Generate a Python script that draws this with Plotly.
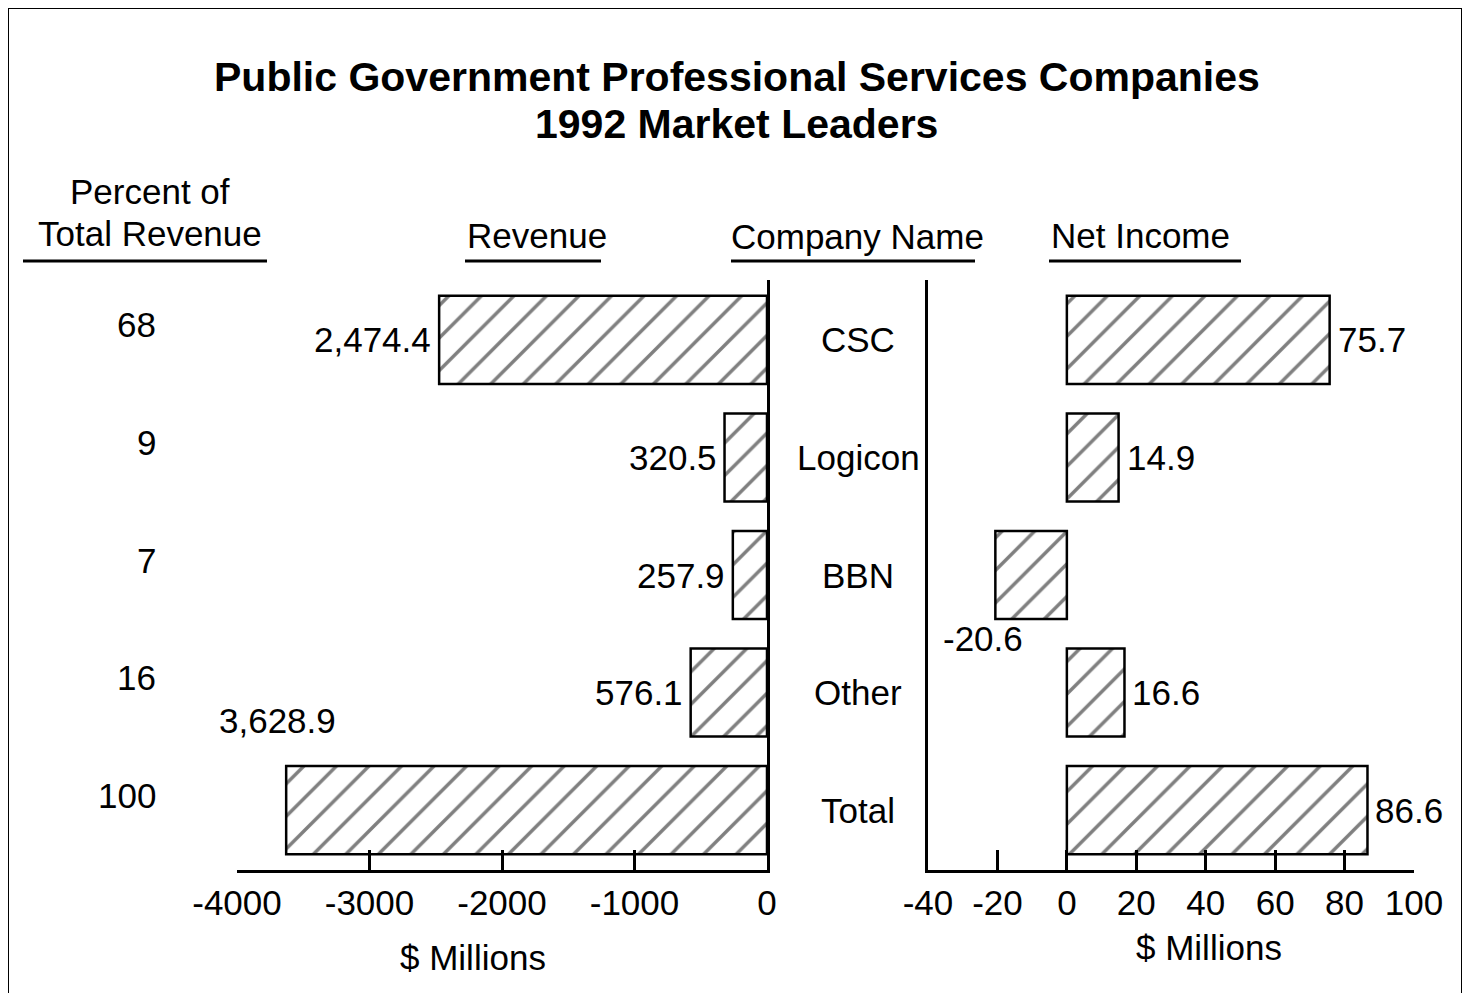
import plotly.graph_objects as go

companies = ["CSC", "Logicon", "BBN", "Other", "Total"]
percent_of_total = ["68", "9", "7", "16", "100"]
revenue = [2474.4, 320.5, 257.9, 576.1, 3628.9]
revenue_labels = ["2,474.4", "320.5", "257.9", "576.1", "3,628.9"]
net_income = [75.7, 14.9, -20.6, 16.6, 86.6]
net_income_labels = ["75.7", "14.9", "-20.6", "16.6", "86.6"]
rev_ticks = [-4000, -3000, -2000, -1000, 0]
rev_tick_text = ["-4000", "-3000", "-2000", "-1000", "0"]
ni_ticks = [-40, -20, 0, 20, 40, 60, 80, 100]
ni_tick_text = ["-40", "-20", "0", "20", "40", "60", "80", "100"]

OFF = 8  # page body margin
W, H = 1470 - 2 * OFF, 1001 - 2 * OFF
FONT = "Liberation Sans"
FS = 35

def px(x):
    return (x - OFF) / W

def py(y):
    return 1 - (y - OFF) / H

pattern = dict(shape="/", fgcolor="black", bgcolor="white", size=23, solidity=0.15)

fig = go.Figure()
fig.add_trace(go.Bar(
    x=[-v for v in revenue], y=companies, orientation="h", width=0.75,
    marker=dict(color="white", pattern=pattern, line=dict(color="black", width=2.5)),
    xaxis="x", yaxis="y", showlegend=False, hoverinfo="skip"))
fig.add_trace(go.Bar(
    x=net_income, y=companies, orientation="h", width=0.75,
    marker=dict(color="white", pattern=pattern, line=dict(color="black", width=2.5)),
    xaxis="x2", yaxis="y2", showlegend=False, hoverinfo="skip"))

ydom = [py(870), py(280)]
axis_common = dict(showgrid=False, zeroline=False, showline=True, linecolor="black",
                   linewidth=2.5, ticks="inside", ticklen=20, tickwidth=2.5,
                   tickcolor="black", automargin=False,
                   tickfont=dict(family=FONT, size=FS, color="black"))
fig.update_layout(
    width=W, height=H, autosize=False,
    margin=dict(l=0, r=0, t=0, b=0, pad=0, autoexpand=False),
    paper_bgcolor="white", plot_bgcolor="white",
    font=dict(family=FONT, size=FS, color="black"),
    bargap=0.25,
    xaxis=dict(domain=[px(237), px(767)], range=[-4000, 0], tickvals=rev_ticks,
               ticktext=rev_tick_text, anchor="y", **axis_common),
    yaxis=dict(domain=ydom, type="category", categoryarray=companies, range=[4.51, -0.51],
               side="right", showline=True, linecolor="black", linewidth=2.5,
               showticklabels=False, ticks="", showgrid=False, zeroline=False, anchor="x"),
    xaxis2=dict(domain=[px(928), px(1414)], range=[-40, 100], tickvals=ni_ticks,
                ticktext=ni_tick_text, anchor="y2", **axis_common),
    yaxis2=dict(domain=ydom, type="category", categoryarray=companies, range=[4.51, -0.51],
                side="left", showline=True, linecolor="black", linewidth=2.5,
                showticklabels=False, ticks="", showgrid=False, zeroline=False, anchor="x2"),
)

ann = []
def add_text(text, x, y, size=FS, xanchor="center", bold=False, **kw):
    d = dict(text=text, x=x, y=y, xref="paper", yref="paper", showarrow=False,
             xanchor=xanchor, yanchor="middle",
             font=dict(family=FONT, size=size, color="black", weight=700 if bold else 400))
    d.update(kw)
    ann.append(d)

add_text("Public Government Professional Services Companies", px(737), py(77), size=41, bold=True)
add_text("1992 Market Leaders", px(737), py(124), size=41, bold=True)
add_text("Percent of", px(150), py(192))
add_text("Total Revenue", px(150), py(233))
add_text("Revenue", px(537), py(235))
add_text("Company Name", px(857), py(236))
add_text("Net Income", px(1140), py(235))
add_text("$ Millions", px(473), py(957))
add_text("$ Millions", px(1209), py(947))

for i, c in enumerate(companies):
    ann.append(dict(text=c, x=px(858), xref="paper", y=c, yref="y", showarrow=False,
                    xanchor="center", yanchor="middle",
                    font=dict(family=FONT, size=FS, color="black")))
    ann.append(dict(text=percent_of_total[i], x=px(158), xref="paper", y=c, yref="y",
                    yshift=15, showarrow=False, xanchor="right", yanchor="middle",
                    font=dict(family=FONT, size=FS, color="black")))
    if c == "Total":
        ann.append(dict(text=revenue_labels[i], x=-revenue[i], xref="x", y=c, yref="y",
                        xshift=-9, yshift=90, showarrow=False, xanchor="center", yanchor="middle",
                        font=dict(family=FONT, size=FS, color="black")))
    else:
        ann.append(dict(text=revenue_labels[i], x=-revenue[i], xref="x", y=c, yref="y",
                        xshift=-6, showarrow=False, xanchor="right", yanchor="middle",
                        font=dict(family=FONT, size=FS, color="black")))
    if net_income[i] < 0:
        ann.append(dict(text=net_income_labels[i], x=net_income[i], xref="x2", y=c, yref="y2",
                        xshift=-12, yshift=-63, showarrow=False, xanchor="center", yanchor="middle",
                        font=dict(family=FONT, size=FS, color="black")))
    else:
        ann.append(dict(text=net_income_labels[i], x=net_income[i], xref="x2", y=c, yref="y2",
                        xshift=6, showarrow=False, xanchor="left", yanchor="middle",
                        font=dict(family=FONT, size=FS, color="black")))

fig.update_layout(annotations=ann)

shapes = []
for x0, x1 in [(23, 267), (465, 601), (731, 975), (1049, 1241)]:
    shapes.append(dict(type="line", xref="paper", yref="paper", x0=px(x0), x1=px(x1),
                       y0=py(261), y1=py(261), line=dict(color="black", width=3)))
shapes.append(dict(type="rect", xref="paper", yref="paper", x0=px(8), x1=px(1462),
                   y0=py(1010), y1=py(8), line=dict(color="black", width=2)))
fig.update_layout(shapes=shapes)

fig.write_html("out.html")
